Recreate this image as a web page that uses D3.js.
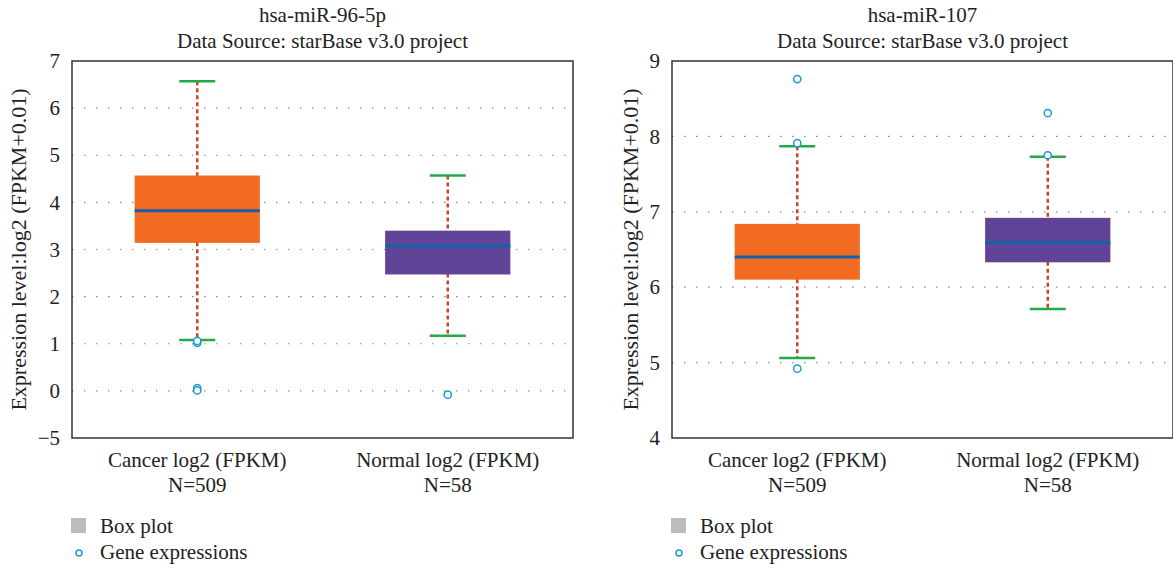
<!DOCTYPE html>
<html>
<head>
<meta charset="utf-8">
<script src="https://cdn.jsdelivr.net/npm/d3@7"></script>
<style>
body { margin: 0; background: #fff; }
text { font-family: "Liberation Serif", "DejaVu Serif", serif; fill: #222; }
</style>
</head>
<body>
<svg id="chart" width="1173" height="568"></svg>
<script>
/* values */
var groups = ["Cancer log2 (FPKM)", "Normal log2 (FPKM)"];
var counts = ["N=509", "N=58"];

// left panel: hsa-miR-96-5p
var mir96Stats = [
    {lo: 1.08, q1: 3.14, med: 3.82, q3: 4.57, hi: 6.57},
    {lo: 1.17, q1: 2.47, med: 3.08, q3: 3.40, hi: 4.57}
];
var mir96Outliers = [[1.02, 1.06, 0.06, 0.01], [-0.08]];
var mir96Ticks = [-1, 0, 1, 2, 3, 4, 5, 6, 7];
var mir96TickLabels = ["\u22125", "0", "1", "2", "3", "4", "5", "6", "7"];

// right panel: hsa-miR-107
var mir107Stats = [
    {lo: 5.06, q1: 6.10, med: 6.40, q3: 6.84, hi: 7.87},
    {lo: 5.71, q1: 6.33, med: 6.59, q3: 6.92, hi: 7.73}
];
var mir107Outliers = [[8.76, 7.91, 4.92], [8.31, 7.75]];
var mir107Ticks = [4, 5, 6, 7, 8, 9];
var mir107TickLabels = ["4", "5", "6", "7", "8", "9"];

var boxColors = ["#f26b22", "#614498"];

var svg = d3.select("#chart");

function drawPanel(left, labelX, title, stats, outliers, ticks, tickLabels) {
    var top = 61, bottom = 438, w = 501;
    var g = svg.append("g");

    var x = d3.scaleBand().domain(groups).range([left, left + w]).paddingInner(0.5).paddingOuter(0.25);
    var y = d3.scaleLinear().domain([ticks[0], ticks[ticks.length - 1]]).range([bottom, top]);

    // titles
    g.append("text").attr("x", left + w / 2).attr("y", 22).attr("text-anchor", "middle")
        .style("font-size", "21px").text(title);
    g.append("text").attr("x", left + w / 2).attr("y", 48).attr("text-anchor", "middle")
        .style("font-size", "21px").text("Data Source: starBase v3.0 project");

    // grid
    g.selectAll(".grid").data(ticks.slice(1, -1)).enter().append("line")
        .attr("x1", left).attr("x2", left + w)
        .attr("y1", function (d) { return y(d); }).attr("y2", function (d) { return y(d); })
        .attr("stroke", "#888").attr("stroke-width", 1.2).attr("stroke-dasharray", "1.5,10.5");

    // y axis labels
    var axis = d3.axisLeft(y).tickValues(ticks).tickSize(0).tickPadding(12)
        .tickFormat(function (d, i) { return tickLabels[i]; });
    var ax = g.append("g").attr("transform", "translate(" + left + ",0)").call(axis);
    ax.select(".domain").remove();
    ax.selectAll("text").style("font-size", "21px").style("font-family", "Liberation Serif, serif").attr("fill", "#222");

    g.append("text").attr("transform", "translate(" + labelX + "," + ((top + bottom) / 2) + ") rotate(-90)")
        .attr("text-anchor", "middle").attr("dy", "0.35em").style("font-size", "22px")
        .text("Expression level:log2 (FPKM+0.01)");

    // boxes
    var bw = x.bandwidth();
    stats.forEach(function (s, i) {
        var cx = x(groups[i]) + bw / 2;
        g.append("line").attr("x1", cx).attr("x2", cx).attr("y1", y(s.hi)).attr("y2", y(s.lo))
            .attr("stroke", "#c9442a").attr("stroke-width", 2.5).attr("stroke-dasharray", "4,3");
        g.append("rect").attr("x", x(groups[i])).attr("width", bw)
            .attr("y", y(s.q3)).attr("height", y(s.q1) - y(s.q3)).attr("fill", boxColors[i]);
        g.append("line").attr("x1", x(groups[i])).attr("x2", x(groups[i]) + bw)
            .attr("y1", y(s.med)).attr("y2", y(s.med)).attr("stroke", "#1660a8").attr("stroke-width", 3);
        [s.lo, s.hi].forEach(function (v) {
            g.append("line").attr("x1", cx - 18).attr("x2", cx + 18).attr("y1", y(v)).attr("y2", y(v))
                .attr("stroke", "#22aa4a").attr("stroke-width", 2.5);
        });
        g.selectAll(".out" + i).data(outliers[i]).enter().append("circle")
            .attr("cx", cx).attr("cy", function (d) { return y(d); }).attr("r", 3.6)
            .attr("fill", "#fff").attr("stroke", "#1c9ad6").attr("stroke-width", 1.5);

        g.append("text").attr("x", cx).attr("y", 467).attr("text-anchor", "middle")
            .style("font-size", "21px").text(groups[i]);
        g.append("text").attr("x", cx).attr("y", 492).attr("text-anchor", "middle")
            .style("font-size", "21px").text(counts[i]);
    });

    // frame
    g.append("rect").attr("x", left).attr("y", top).attr("width", w).attr("height", bottom - top)
        .attr("fill", "none").attr("stroke", "#333").attr("stroke-width", 1.5);

    // legend
    g.append("rect").attr("x", left - 1).attr("y", 518).attr("width", 15).attr("height", 15).attr("fill", "#bcbcbc");
    g.append("text").attr("x", left + 28).attr("y", 533).style("font-size", "21px").text("Box plot");
    g.append("circle").attr("cx", left + 7).attr("cy", 553).attr("r", 3)
        .attr("fill", "#fff").attr("stroke", "#1c9ad6").attr("stroke-width", 1.5);
    g.append("text").attr("x", left + 28).attr("y", 559).style("font-size", "21px").text("Gene expressions");
}

drawPanel(72, 18, "hsa-miR-96-5p", mir96Stats, mir96Outliers, mir96Ticks, mir96TickLabels);
drawPanel(672, 630, "hsa-miR-107", mir107Stats, mir107Outliers, mir107Ticks, mir107TickLabels);
</script>
</body>
</html>
